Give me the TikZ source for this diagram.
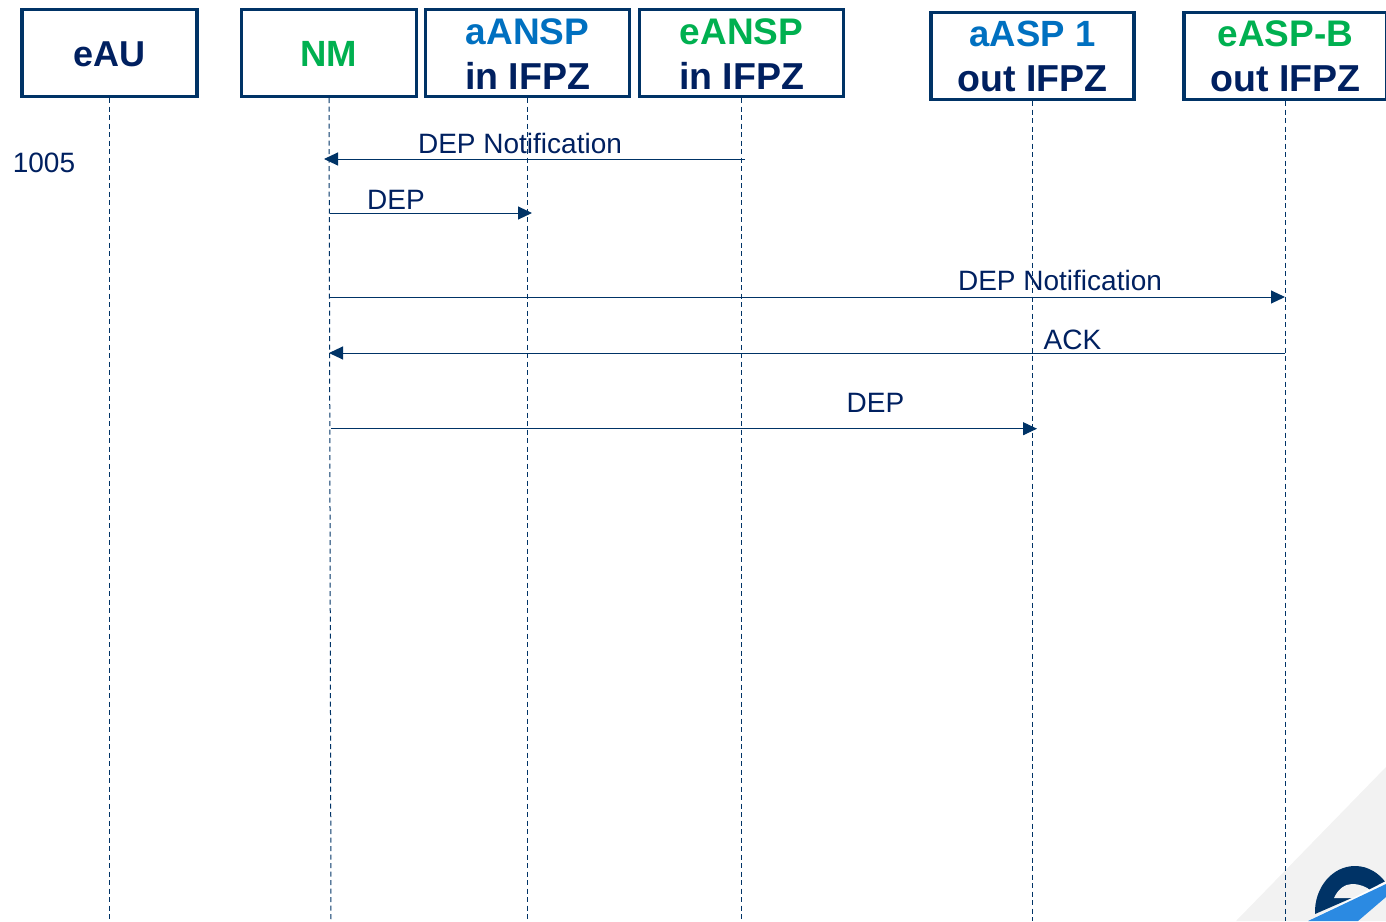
\documentclass[tikz,border=0pt]{standalone}
\usepackage{fontspec}
\setmainfont{Liberation Sans}
\usetikzlibrary{arrows.meta}
\definecolor{navy}{HTML}{002060}
\definecolor{edge}{HTML}{003366}
\definecolor{grn}{HTML}{00B050}
\definecolor{blu}{HTML}{0070C0}
\definecolor{logoblue}{HTML}{2B8AE2}
\definecolor{pale}{HTML}{F2F2F2}
\newcommand{\fs}[1]{\fontsize{#1}{45}\selectfont}
\newcommand{\dn}[1]{\raisebox{-1pt}[\height][\depth]{#1}}
\tikzset{
 actor/.style={draw=edge,line width=3.4pt,fill=white,inner sep=0pt,minimum height=87pt,align=center,font=\fontsize{37.5}{45}\selectfont\bfseries,text=navy},
 lifeline/.style={draw=edge,line width=1pt,dash pattern=on 5pt off 3.5pt},
 msg/.style={draw=edge,line width=1pt,-{Triangle[length=14pt,width=13pt]}},
 lbl/.style={font=\fontsize{28}{32}\selectfont,text=navy,inner sep=0pt},
}
\begin{document}
\begin{tikzpicture}[x=1pt,y=-1pt]
\useasboundingbox (0,0) rectangle (1386,921);
\fill[pale] (1386,767) -- (1236,921) -- (1386,921) -- cycle;
\fill[edge] (1315,914) .. controls (1314,888) and (1332,866) .. (1355,866) .. controls (1368,866) and (1379,873) .. (1386,883) -- cycle;
\fill[pale] (1334,898) .. controls (1338,889) and (1345,884) .. (1352,884) .. controls (1360,884) and (1367,887) .. (1371,891) -- (1354,898) -- cycle;
\fill[white] (1308,921) -- (1386,881) -- (1386,884) -- (1314,921) -- cycle;
\fill[logoblue] (1308,921) -- (1386,884) -- (1386,897) -- (1358,921) -- cycle;
\node[actor,minimum width=175pt] (eau) at (109.5,53) {\dn{\fs{36}eAU}};
\node[actor,minimum width=175pt,text=grn] (nm) at (329,53) {\dn{\fs{36.5}NM}};
\node[actor,minimum width=204pt] (aansp) at (527.5,53) {\dn{\fs{37}\textcolor{blu}{aANSP}}\\\dn{in IFPZ}};
\node[actor,minimum width=204pt] (eansp) at (741.5,53) {\dn{\fs{37}\textcolor{grn}{eANSP}}\\\dn{in IFPZ}};
\node[actor,minimum width=203pt] (aasp) at (1032.5,56) {\fs{36.5}\textcolor{blu}{aASP 1}\\out IFPZ};
\node[actor,minimum width=203pt] (easp) at (1285.5,56) {\fs{37}\textcolor{grn}{eASP-B}\\out IFPZ};
\coordinate (eauEnd) at (109.5,921);
\coordinate (nmEnd) at (331,921);
\coordinate (aanspEnd) at (527.5,921);
\coordinate (eanspEnd) at (741.5,921);
\coordinate (aaspEnd) at (1032.5,921);
\coordinate (easpEnd) at (1285.5,921);
\draw[lifeline] (eau.south) -- (eauEnd);
\draw[lifeline] (nm.south) -- (nmEnd);
\draw[lifeline] (aansp.south) -- (aanspEnd);
\draw[lifeline] (eansp.south) -- (eanspEnd);
\draw[lifeline] (aasp.south) -- (aaspEnd);
\draw[lifeline] (easp.south) -- (easpEnd);
\coordinate (m1a) at (745,159); \coordinate (m1b) at (324,159);
\coordinate (m2a) at (330,213); \coordinate (m2b) at (532,213);
\coordinate (m3a) at (330,297); \coordinate (m3b) at (1285,297);
\coordinate (m4a) at (1285,353); \coordinate (m4b) at (329,353);
\coordinate (m5a) at (331,428.7); \coordinate (m5b) at (1037,428.7);
\draw[msg] (m1a) -- (m1b);
\draw[msg] (m2a) -- (m2b);
\draw[msg] (m3a) -- (m3b);
\draw[msg] (m4a) -- (m4b);
\draw[msg] (m5a) -- (m5b);
\node[lbl] (t0) at (44,163) {1005};
\node[lbl] (t1) at (520,143) {DEP Notification};
\node[lbl] (t2) at (396,199.5) {DEP};
\node[lbl] (t3) at (1060,280) {DEP Notification};
\node[lbl] (t4) at (1072.5,339.5) {ACK};
\node[lbl] (t5) at (875.5,403) {DEP};
\end{tikzpicture}
\end{document}
